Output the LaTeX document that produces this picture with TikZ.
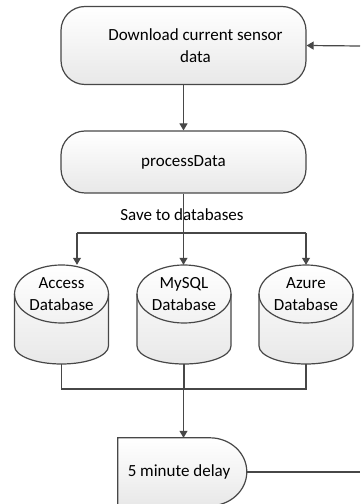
\documentclass[tikz,border=0pt]{standalone}
\usepackage{fontspec}
\setmainfont{Carlito}
\usetikzlibrary{arrows.meta}

% database cylinder: name, x of centre, text
\newcommand{\dbcylinder}[3]{%
  \node[dbnode] (#1) at (#2,189.5) {};
  \draw[line, shade] (#2-47,210) -- (#2-47,158) arc (180:360:47 and 18) -- (#2+47,210) arc (0:180:47 and 29) -- cycle;
  \draw[line] (#2-47,210) arc (180:360:47 and 29);
  \node[align=center] (#1txt) at (#2,210) {#3};
}

\begin{document}
\begin{tikzpicture}[x=1pt, y=1pt, >={Triangle[width=8pt,length=7pt]}, font=\fontsize{17}{22}\selectfont]
    \tikzstyle{line}=[draw=black!72, line width=1.2pt]
    \tikzstyle{shade}=[top color=white, bottom color=black!9]
    \tikzstyle{box}=[line, shade, rectangle, rounded corners=24pt, align=center, minimum width=245pt]
    \tikzstyle{dbnode}=[rectangle, minimum width=94pt, minimum height=99pt]
    \useasboundingbox (0,0) rectangle (360,504);

    \node[box, minimum height=78pt] (download) at (183.5,458.5) {\hspace*{24pt}Download current sensor\\\hspace*{24pt}data};
    \node[box, minimum height=62pt] (process) at (183.5,342) {processData};
    \node (save) at (182,289) {Save to databases};

    \dbcylinder{access}{61.5}{Access\\Database}
    \dbcylinder{mysql}{184}{MySQL\\Database}
    \dbcylinder{azure}{306}{Azure\\Database}

    \node[rectangle, minimum width=129pt, minimum height=68pt] (delay) at (182.5,32) {};
    \draw[line, shade] (delay.south west) -- (delay.north west) -- ++(92,0) arc (90:-90:37 and 34) -- cycle;
    \node (delaytxt) at (179,32) {5 minute delay};

    \coordinate (bus) at (183.5,271);
    \coordinate (busL) at (77,271);
    \coordinate (busR) at (306,271);
    \coordinate (join) at (183.5,115);
    \coordinate (loopin) at (360,458);
    \coordinate (loopout) at (360,32);

    \draw[line, ->] (download.south) -- (process.north);
    \draw[line] (process.south) -- (bus);
    \draw[line] (busL) -- (busR);
    \draw[line, ->] (busL) -- (busL |- access.north);
    \draw[line, ->] (bus) -- (bus |- mysql.north);
    \draw[line, ->] (busR) -- (azure.north);
    \draw[line] (access.south) -- (access.south |- join) -- (azure.south |- join) -- (azure.south);
    \draw[line] (mysql.south) -- (mysql.south |- join);
    \draw[line, ->] (join) -- (join |- delay.north);
    \draw[line, ->] (loopin) -- (download.east);
    \draw[line] (delay.east) -- (loopout);
  \end{tikzpicture}
\end{document}
